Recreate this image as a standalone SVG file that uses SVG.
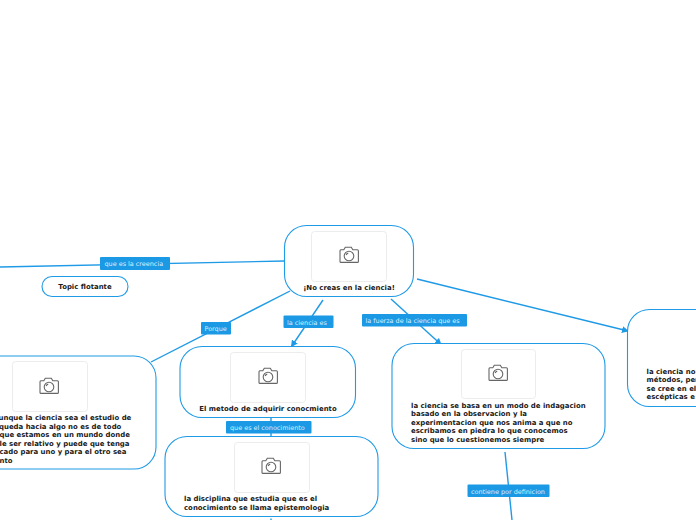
<svg xmlns="http://www.w3.org/2000/svg" xmlns:xlink="http://www.w3.org/1999/xlink" width="696" height="520" viewBox="0 0 696 520">
<style>
.n{fill:#fff;stroke:#1f9ae6;stroke-width:1.1}
.im{fill:#fff;stroke:#ececec;stroke-width:1}
.t{font-family:"DejaVu Sans",sans-serif;font-weight:700;font-size:6.95px;fill:#1a1a1a}
.c{fill:none;stroke:#1f9ae6;stroke-width:1.4}
.lb{fill:#1b99e5}
.lt{font-family:"DejaVu Sans",sans-serif;font-size:6.45px;fill:#d8eefc}
.cam{fill:none;stroke:#666;stroke-width:1.1}
</style>
<defs>
<g id="cam"><path class="cam" d="M-8.500-6.200h3.300l1.500-2.600h6l1.500 2.600h4.600q1 0 1 1v10.600q0 1-1 1h-16.400q-1 0-1-1v-10.600q0-1 1-1z"/><circle class="cam" cx="0" cy="0" r="4.800"/><path class="cam" d="M-2.800-1a3 3 0 0 1 2-1.900"/></g>
<marker id="ah" markerWidth="7" markerHeight="7" refX="6" refY="3.500" orient="auto" markerUnits="userSpaceOnUse"><path d="M0 0L7 3.500L0 7z" fill="#1f9ae6"/></marker>
</defs>
<g id="connectors">
<path class="c" d="M0 267L284.500 261"/>
<path class="c" d="M290 291L151 362"/>
<path class="c" d="M323 300L291.500 346.500" marker-end="url(#ah)"/>
<path class="c" d="M391 299L441 344.500" marker-end="url(#ah)"/>
<path class="c" d="M417 279L628 331" marker-end="url(#ah)"/>
<path class="c" d="M505 452L512 520"/>
<path class="c" d="M271 417V437"/>
<path class="c" d="M271 518.500V520"/>
</g>
<g id="node-main"><rect class="n" x="284.500" y="225.500" width="129" height="71" rx="22"/><rect class="im" x="311.500" y="231.500" width="75" height="50" rx="3"/><use href="#cam" x="349" y="256"/><text class="t" x="349" y="290" text-anchor="middle">¡No creas en la ciencia!</text></g>
<g id="node-flotante"><rect class="n" x="42" y="276.500" width="86" height="20" rx="10"/><text class="t" x="85" y="289" text-anchor="middle">Topic flotante</text></g>
<g id="node-aunque"><rect class="n" x="-60" y="356" width="216" height="113" rx="22"/><rect class="im" x="12.500" y="361.500" width="75" height="50" rx="3"/><use href="#cam" x="49" y="387"/>
<text class="t"><tspan x="-1.500" y="420">unque la ciencia sea el estudio de</tspan><tspan x="-1" y="429">queda hacia algo no es de todo</tspan><tspan x="-0.500" y="437">que estamos en un mundo donde</tspan><tspan x="-0.500" y="446">le ser relativo y puede que tenga</tspan><tspan x="-0.500" y="454">cado para uno y para el otro sea</tspan><tspan x="-0.500" y="463">nto</tspan></text></g>
<g id="node-metodo"><rect class="n" x="180" y="346.500" width="175.500" height="71" rx="22"/><rect class="im" x="230.500" y="352.500" width="75" height="50" rx="3"/><use href="#cam" x="268" y="377"/><text class="t" x="268" y="411" text-anchor="middle">El metodo de adquirir conocmiento</text></g>
<g id="node-disciplina"><rect class="n" x="165" y="436.500" width="213" height="80" rx="22"/><rect class="im" x="234.500" y="442.500" width="75" height="50" rx="3"/><use href="#cam" x="271" y="467"/><text class="t"><tspan x="184" y="501">la disciplina que estudia que es el</tspan><tspan x="184" y="510">conocimiento se llama epistemologia</tspan></text></g>
<g id="node-indagacion"><rect class="n" x="392" y="343.500" width="213" height="105" rx="22"/><rect class="im" x="461.500" y="349.500" width="74" height="49" rx="3"/><use href="#cam" x="498" y="374"/>
<text class="t"><tspan x="411" y="408">la ciencia se basa en un modo de indagacion</tspan><tspan x="411" y="416">basado en la observacion y la</tspan><tspan x="411" y="425">experimentacion que nos anima a que no</tspan><tspan x="411" y="433">escribamos en piedra lo que conocemos</tspan><tspan x="411" y="442">sino que lo cuestionemos siempre</tspan></text></g>
<g id="node-right"><rect class="n" x="627.500" y="309.500" width="120" height="97" rx="22"/>
<text class="t"><tspan x="646.500" y="374">la ciencia no</tspan><tspan x="646.500" y="382">métodos, per</tspan><tspan x="646.500" y="391">se cree en el</tspan><tspan x="646.500" y="399">escépticas e</tspan></text></g>
<g id="labels">
<g id="l1"><rect class="lb" x="100" y="257" width="70" height="13" rx="1"/><text class="lt" x="104.500" y="266">que es la creencia</text></g>
<g id="l2"><rect class="lb" x="201" y="322" width="30" height="12.500" rx="1"/><text class="lt" x="204.500" y="331">Porque</text></g>
<g id="l3"><rect class="lb" x="283.500" y="315.500" width="50" height="12.500" rx="1"/><text class="lt" x="287" y="324.500">la ciencia es</text></g>
<g id="l4"><rect class="lb" x="362" y="314" width="105" height="12.500" rx="1"/><text class="lt" x="365.500" y="323">la fuerza de la ciencia que es</text></g>
<g id="l5"><rect class="lb" x="226" y="421" width="85.500" height="12.500" rx="1"/><text class="lt" x="230" y="430">que es el conocimiento</text></g>
<g id="l6"><rect class="lb" x="467.500" y="484.500" width="82" height="12.500" rx="1"/><text class="lt" x="471" y="493.500">contiene por definicion</text></g>
</g>
</svg>
